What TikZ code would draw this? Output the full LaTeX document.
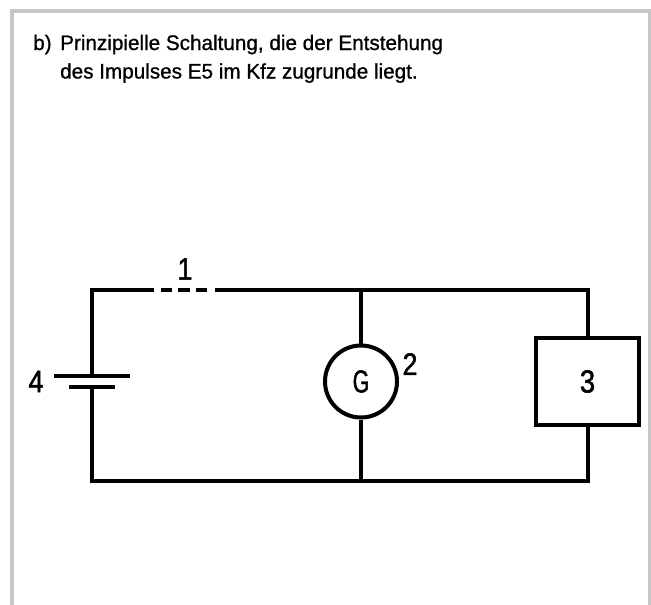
\documentclass[tikz,border=0pt]{standalone}
\usepackage{fontspec}
\setmainfont[FakeStretch=0.985,FakeBold=0.9]{Liberation Sans}
\newfontfamily\numfont[FakeStretch=0.86,FakeBold=1.4]{Liberation Sans}
\newfontfamily\gfont[FakeStretch=0.66,FakeBold=1.4]{Liberation Sans}
\tikzset{
  wire/.style={line width=4pt,line join=miter,line cap=butt},
  lbl/.style={inner sep=0pt,font=\numfont\fontsize{31}{31}\selectfont},
  heading/.style={inner sep=0pt,anchor=base west,font=\fontsize{21}{24}\selectfont}
}
\begin{document}
\begin{tikzpicture}[x=1pt,y=-1pt]
\useasboundingbox (0,0) rectangle (651,605);
\fill[white] (0,0) rectangle (651,605);
\draw[line width=4.2pt,color=black!22] (12.1,605) -- (12.1,10.6) -- (649.9,10.6) -- (649.9,605);
\node[heading] (h1) at (33,50) {b)};
\node[heading] (h2) at (60,50) {Prinzipielle Schaltung, die der Entstehung};
\node[heading] (h3) at (60,78.5) {des Impulses E5 im Kfz zugrunde liegt.};
\coordinate (tl) at (92,289.5);
\coordinate (bl) at (92,480.5);
\coordinate (tr) at (587.5,289.5);
\coordinate (br) at (587.5,480.5);
\coordinate (d0) at (154,289.5);
\coordinate (d1) at (215,289.5);
\coordinate (tm) at (361,289.5);
\coordinate (bm) at (361,480.5);
\coordinate (bat1a) at (54,375.7);
\coordinate (bat1b) at (129.5,375.7);
\coordinate (bat2a) at (69,386.7);
\coordinate (bat2b) at (114.5,386.7);
\coordinate (bat1m) at (92,375.7);
\coordinate (bat2m) at (92,386.7);
\node[draw,wire,circle,minimum size=72pt,inner sep=0pt,font=\gfont\fontsize{32}{32}\selectfont] (G) at (361,381.5) {\raisebox{-2pt}{G}};
\node[draw,wire,rectangle,minimum width=103.5pt,minimum height=87.5pt,inner sep=0pt,font=\numfont\fontsize{32}{32}\selectfont] (L) at (587.5,381.5) {\raisebox{-2pt}{3}};
\node[lbl] (n1) at (185,269) {1};
\node[lbl] (n2) at (410,364) {2};
\node[lbl] (n4) at (36,381.5) {4};
\draw[wire] (bat1m) -- (tl) -- (d0);
\draw[wire] (d1) -- (tr) -- (L.north);
\draw[wire] (L.south) -- (br) -- (bl) -- (bat2m);
\draw[wire] (tm) -- (G.north);
\draw[wire] (G.south) -- (bm);
\draw[wire] (bat1a) -- (bat1b);
\draw[wire] (bat2a) -- (bat2b);
\draw[wire,dash pattern=on 11.3pt off 6pt] (161,289.5) -- (208.5,289.5);
\end{tikzpicture}
\end{document}
